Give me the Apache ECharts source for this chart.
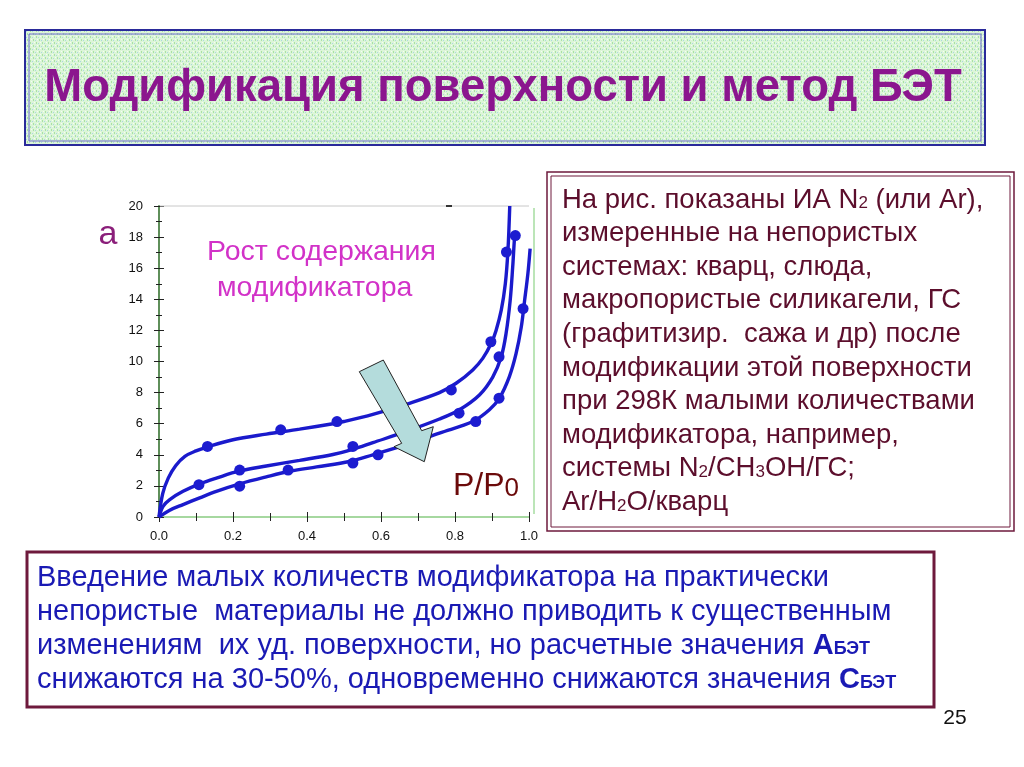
<!DOCTYPE html>
<html><head><meta charset="utf-8">
<script src="https://cdn.jsdelivr.net/npm/echarts@6/dist/echarts.min.js"></script>
<style>html,body{margin:0;padding:0;background:#fff;}#c{width:1024px;height:767px;}</style>
</head><body><div id="c"></div>
<script>
// ---- data ----
var xTicks = [0, 0.2, 0.4, 0.6, 0.8, 1.0];
var yTicks = [0, 2, 4, 6, 8, 10, 12, 14, 16, 18, 20];
// traced fitted curves [P/P0, a]
var curveTop = [[0,0],[0.01,1.5],[0.025,2.5],[0.045,3.3],[0.07,3.9],[0.1,4.25],[0.13,4.5],[0.2,4.97],[0.29,5.33],[0.38,5.65],[0.47,6.0],[0.5,6.14],[0.578,6.6],[0.668,7.25],[0.758,8.0],[0.803,8.6],[0.848,9.46],[0.875,10.2],[0.898,11.17],[0.911,12.0],[0.925,13.3],[0.936,15.0],[0.943,17.1],[0.948,20]];
var curveMid = [[0,0],[0.011,0.69],[0.029,1.12],[0.065,1.65],[0.11,2.13],[0.155,2.5],[0.218,2.96],[0.29,3.28],[0.38,3.64],[0.47,4.02],[0.524,4.35],[0.578,4.78],[0.668,5.5],[0.758,6.3],[0.812,6.9],[0.866,7.85],[0.902,9.0],[0.925,10.3],[0.938,11.8],[0.949,13.9],[0.956,16.1],[0.961,18.0],[0.963,18.3]];
var curveLow = [[0,0],[0.029,0.44],[0.065,0.8],[0.11,1.23],[0.155,1.65],[0.218,2.13],[0.29,2.58],[0.354,2.94],[0.426,3.22],[0.515,3.57],[0.578,4.0],[0.668,4.65],[0.758,5.4],[0.848,6.14],[0.893,6.9],[0.92,7.64],[0.947,9.03],[0.965,10.5],[0.979,12.2],[0.988,13.9],[0.997,15.65],[1.003,17.26]];
// measured points
var pointsTop = [[0.131,4.54],[0.329,5.61],[0.481,6.14],[0.79,8.17],[0.897,11.27],[0.939,17.04]];
var pointsMid = [[0.108,2.08],[0.218,3.02],[0.524,4.54],[0.811,6.68],[0.919,10.3],[0.963,18.1]];
var pointsLow = [[0.218,1.98],[0.349,3.02],[0.524,3.47],[0.592,4.0],[0.856,6.14],[0.919,7.64],[0.984,13.4]];

var titleText = 'Модификация поверхности и метод БЭТ';
var annotLines = ['Рост содержания', 'модификатора'];
var rightLines = [
  'На рис. показаны ИА N{s|2} (или Ar),',
  'измеренные на непористых',
  'системах: кварц, слюда,',
  'макропористые силикагели, ГС',
  '(графитизир.  сажа и др) после',
  'модификации этой поверхности',
  'при 298К малыми количествами',
  'модификатора, например,',
  'системы N{s|2}/CH{s|3}OH/ГС;',
  'Ar/H{s|2}O/кварц'
];
var bottomLines = [
  'Введение малых количеств модификатора на практически',
  'непористые  материалы не должно приводить к существенным',
  'изменениям  их уд. поверхности, но расчетные значения {b|А}{bs|БЭТ}',
  'снижаются на 30-50%, одновременно снижаются значения {b|С}{bs|БЭТ}'
];
var pageNo = '25';

// ---- pattern for title ----
var pc = document.createElement('canvas'); pc.width = 6; pc.height = 6;
var g = pc.getContext('2d');
g.fillStyle = '#dcf5d8'; g.fillRect(0,0,6,6);
g.fillStyle = '#a9e2a2'; g.fillRect(0,0,1,2); g.fillRect(3,3,1,2);
g.fillStyle = '#aad6e2'; g.fillRect(2,1,1,1); g.fillRect(5,4,1,1);
g.fillStyle = '#f4fff2'; g.fillRect(1,3,1,1); g.fillRect(4,0,1,1);

var chart = echarts.init(document.getElementById('c'));
var F = '"Liberation Sans", Arial, sans-serif';
var lineColor = '#1a1acc';

function lineSeries(d){ return {type:'line', data:d, smooth:0.35, showSymbol:false, clip:false, lineStyle:{color:lineColor, width:3.4}, z:3, silent:true}; }
function ptSeries(d){ return {type:'scatter', data:d, symbolSize:11, itemStyle:{color:'#1c1cd0', opacity:1}, z:4, silent:true}; }

var graphics = [];
// title box
graphics.push({type:'rect', shape:{x:25,y:30,width:960,height:115}, style:{fill:{image:pc, repeat:'repeat'}, stroke:'#2a2a9a', lineWidth:2}, z:1});
graphics.push({type:'rect', shape:{x:29,y:34,width:952,height:107}, style:{fill:null, stroke:'#6a6ac8', lineWidth:1}, z:1});
graphics.push({type:'text', x:503, y:88.5, style:{text:titleText, font:'bold 45.5px '+F, fill:'#8b168e', align:'center', verticalAlign:'middle'}, z:2});
// right box
graphics.push({type:'rect', shape:{x:547,y:172,width:467,height:359}, style:{fill:'#fff', stroke:'#6e1a3c', lineWidth:1.5}, z:1});
graphics.push({type:'rect', shape:{x:551,y:176,width:459,height:351}, style:{fill:null, stroke:'#6e1a3c', lineWidth:1}, z:1});
rightLines.forEach(function(t,i){
  graphics.push({type:'text', x:562, y:200+i*33.6, style:{text:t, font:'27.5px '+F, fill:'#5c0e2c', verticalAlign:'middle', rich:{s:{fontSize:17, fill:'#5c0e2c', fontFamily:F, padding:[7,0,0,0]}}}, z:2});
});
// bottom box
graphics.push({type:'rect', shape:{x:27,y:552,width:907,height:155}, style:{fill:'#fff', stroke:'#6e1a3c', lineWidth:3}, z:1});
bottomLines.forEach(function(t,i){
  graphics.push({type:'text', x:37, y:578+i*34, style:{text:t, font:'29px '+F, fill:'#1a1ab4', verticalAlign:'middle', rich:{b:{fontSize:29, fontWeight:'bold', fill:'#1a1ab4', fontFamily:F}, bs:{fontSize:18, fontWeight:'bold', fill:'#1a1ab4', fontFamily:F, padding:[7,0,0,0]}}}, z:2});
});
graphics.push({type:'text', x:955, y:718, style:{text:pageNo, font:'21px '+F, fill:'#111', align:'center', verticalAlign:'middle'}, z:2});
// plot frame extras
graphics.push({type:'line', shape:{x1:160,y1:206,x2:529,y2:206}, style:{stroke:'#c8c8c8', lineWidth:1}, z:1});
graphics.push({type:'line', shape:{x1:446,y1:206,x2:452,y2:206}, style:{stroke:'#333', lineWidth:2}, z:1});
graphics.push({type:'line', shape:{x1:534,y1:208,x2:534,y2:514}, style:{stroke:'#a6dca0', lineWidth:1.5}, z:1});
// axis name labels
graphics.push({type:'text', x:108, y:235, style:{text:'a', font:'34px '+F, fill:'#8b1f7a', align:'center', verticalAlign:'middle'}, z:2});
graphics.push({type:'text', x:453, y:486, style:{text:'P/P{z|0}', font:'32px '+F, fill:'#6b0a0a', verticalAlign:'middle', rich:{z:{fontSize:26, fill:'#6b0a0a', fontFamily:F, padding:[5,0,0,0]}}}, z:2});
// annotation
graphics.push({type:'text', x:207, y:252, style:{text:annotLines[0], font:'28.5px '+F, fill:'#d232c8', verticalAlign:'middle'}, z:2});
graphics.push({type:'text', x:217, y:288, style:{text:annotLines[1], font:'28.5px '+F, fill:'#d232c8', verticalAlign:'middle'}, z:2});
// arrow
graphics.push({type:'polygon', shape:{points:[[359.3,371.7],[383.3,360],[421.7,430.7],[433.3,426.7],[424.3,461.7],[394,446.7],[401.7,443.3]]}, style:{fill:'#b4dcdc', stroke:'#222', lineWidth:1}, z:10});

chart.setOption({
  animation:false,
  backgroundColor:'#fff',
  grid:{left:159, right:495, top:206, bottom:250, containLabel:false},
  xAxis:[
    {type:'value', min:0, max:1, interval:0.2, axisLine:{lineStyle:{color:'#a6d8a0', width:2}}, axisTick:{show:true, length:5, lineStyle:{color:'#222'}}, minorTick:{show:true, splitNumber:2, length:4, lineStyle:{color:'#222'}}, splitLine:{show:false}, axisLabel:{margin:13, formatter:function(v){return v.toFixed(1);}, fontSize:13, color:'#111', fontFamily:F}},
    {type:'value', min:0, max:1, interval:0.2, position:'bottom', axisLine:{show:false}, axisTick:{show:true, inside:true, length:5, lineStyle:{color:'#222'}}, minorTick:{show:true, splitNumber:2, length:4, lineStyle:{color:'#222'}}, splitLine:{show:false}, axisLabel:{show:false}}
  ],
  yAxis:[
    {type:'value', min:0, max:20, interval:2, axisLine:{show:true, lineStyle:{color:'#5f8f5a', width:2}}, axisTick:{show:true, length:5, lineStyle:{color:'#222'}}, minorTick:{show:true, splitNumber:2, length:3, lineStyle:{color:'#222'}}, splitLine:{show:false}, axisLabel:{margin:16, fontSize:13, color:'#111', fontFamily:F}},
    {type:'value', min:0, max:20, interval:2, position:'left', axisLine:{show:false}, axisTick:{show:true, inside:true, length:5, lineStyle:{color:'#222'}}, minorTick:{show:true, splitNumber:2, length:3, lineStyle:{color:'#222'}}, splitLine:{show:false}, axisLabel:{show:false}}
  ],
  series:[
    lineSeries(curveTop), lineSeries(curveMid), lineSeries(curveLow),
    ptSeries(pointsTop), ptSeries(pointsMid), ptSeries(pointsLow)
  ],
  graphic:graphics
});
</script></body></html>
